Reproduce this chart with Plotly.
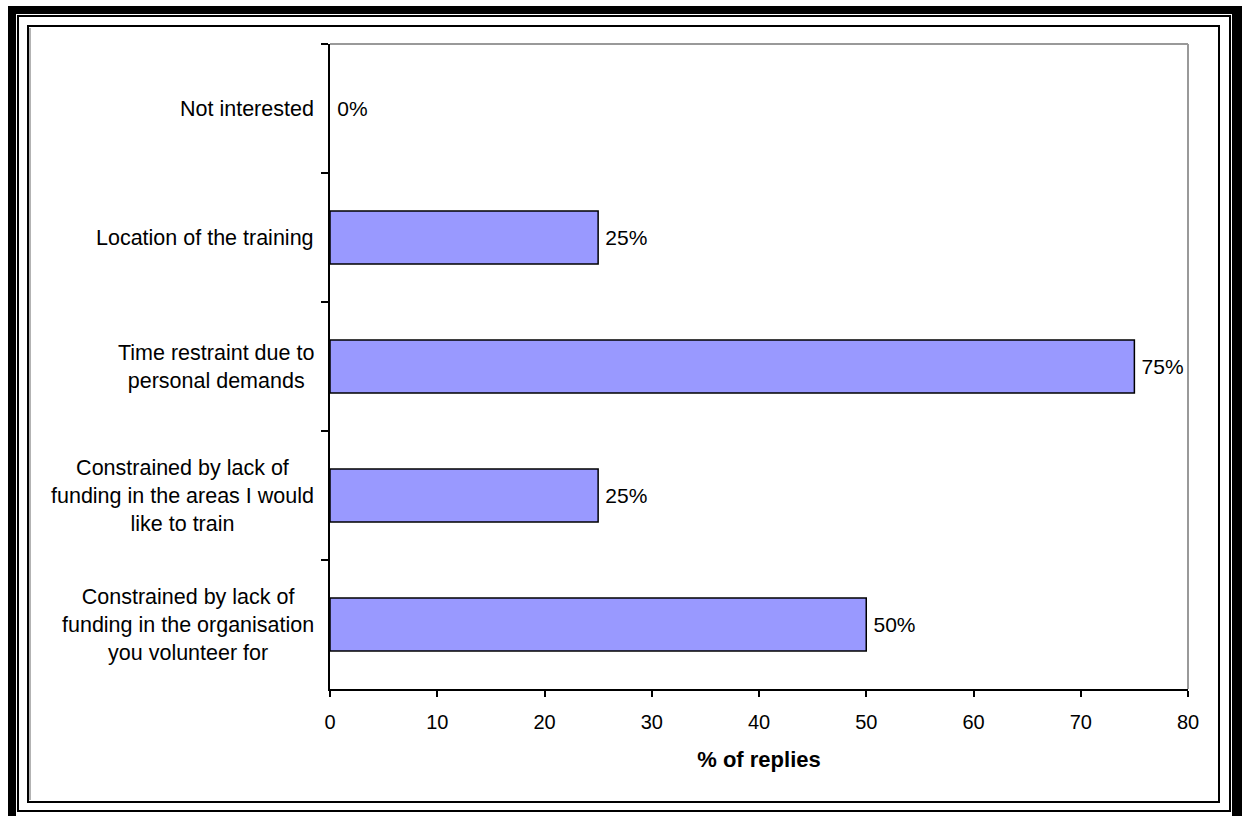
import plotly.graph_objects as go

# Survey answers, listed top to bottom as they appear on the chart
categories = [
    "Not interested",
    "Location of the training",
    "Time restraint due to<br>personal demands",
    "Constrained by lack of<br>funding in the areas I would<br>like to train",
    "Constrained by lack of<br>funding in the organisation<br>you volunteer for",
]
percent_replies = [0, 25, 75, 25, 50]
value_labels = ["0%", "25%", "75%", "25%", "50%"]
x_ticks = [0, 10, 20, 30, 40, 50, 60, 70, 80]

W, H = 1245, 816
L, R, T, B = 330, 1188, 44, 689
FONT = "Arial, Liberation Sans, sans-serif"


def px(x):
    return (x - L) / (R - L)


def py(y):
    return (B - y) / (B - T)


fig = go.Figure(
    go.Bar(
        x=percent_replies,
        y=categories,
        orientation="h",
        marker=dict(
            color="#9999FF",
            # an empty bar gets no outline so only the axis shows
            line=dict(color="black",
                      width=[0 if v == 0 else 1.5 for v in percent_replies]),
        ),
        width=0.41,
        text=value_labels,
        texttemplate="\u2009%{text}",
        textposition="outside",
        textfont=dict(family=FONT, size=21, color="black"),
        cliponaxis=False,
        hoverinfo="skip",
    )
)

# Category labels, centred line by line to the left of the axis
for cat in categories:
    fig.add_annotation(
        x=0, xref="paper", y=cat, yref="y",
        text=cat, showarrow=False,
        xanchor="right", yanchor="middle", align="center",
        xshift=-14,
        font=dict(family=FONT, size=21.5, color="black"),
    )

shapes = []
# heavy outer frame (left, top, right bands)
for x0, y0, x1, y1 in [(8, 6, 16, 830), (8, 6, 1242, 14), (1232, 6, 1242, 830)]:
    shapes.append(dict(type="rect", xref="paper", yref="paper",
                       x0=px(x0), x1=px(x1), y0=py(y1), y1=py(y0),
                       fillcolor="black", line=dict(width=0), layer="above"))
# thin double-line frame
shapes.append(dict(type="rect", xref="paper", yref="paper",
                   x0=px(18), x1=px(1230), y0=py(811), y1=py(16),
                   line=dict(color="black", width=2)))
# chart-area frame with a faint inner shade
shapes.append(dict(type="line", xref="paper", yref="paper",
                   x0=px(30), x1=px(30), y0=py(800), y1=py(28),
                   line=dict(color="#9a9a9a", width=1.5)))
shapes.append(dict(type="rect", xref="paper", yref="paper",
                   x0=px(28), x1=px(1219), y0=py(802), y1=py(26),
                   line=dict(color="black", width=2)))
# grey top and right edges of the plot area
shapes.append(dict(type="line", xref="paper", yref="paper",
                   x0=0, x1=1, y0=1, y1=1,
                   line=dict(color="#999999", width=2)))
shapes.append(dict(type="line", xref="paper", yref="paper",
                   x0=1, x1=1, y0=0, y1=1,
                   line=dict(color="#999999", width=2)))

fig.update_layout(
    width=W, height=H,
    margin=dict(l=L, r=W - R, t=T, b=H - B),
    paper_bgcolor="white", plot_bgcolor="white",
    showlegend=False,
    shapes=shapes,
    font=dict(family=FONT, size=20, color="black"),
    xaxis=dict(
        range=[0, 80], tickvals=x_ticks, ticktext=[str(v) for v in x_ticks],
        showgrid=False, zeroline=False,
        showline=True, linecolor="black", linewidth=1.5,
        ticks="outside", ticklen=6, tickcolor="black", tickwidth=1.5,
        ticklabelstandoff=8,
        tickfont=dict(family=FONT, size=20, color="black"),
        title=dict(text="<b>% of replies</b>", standoff=20,
                   font=dict(family=FONT, size=22, color="black")),
        fixedrange=True,
    ),
    yaxis=dict(
        type="category", categoryorder="array", categoryarray=categories,
        autorange="reversed",
        showticklabels=False, showgrid=False, zeroline=False,
        showline=True, linecolor="black", linewidth=1.5,
        ticks="outside", tickson="boundaries", ticklen=7,
        tickcolor="black", tickwidth=1.5,
        fixedrange=True,
    ),
)

fig.write_html("out.html")
